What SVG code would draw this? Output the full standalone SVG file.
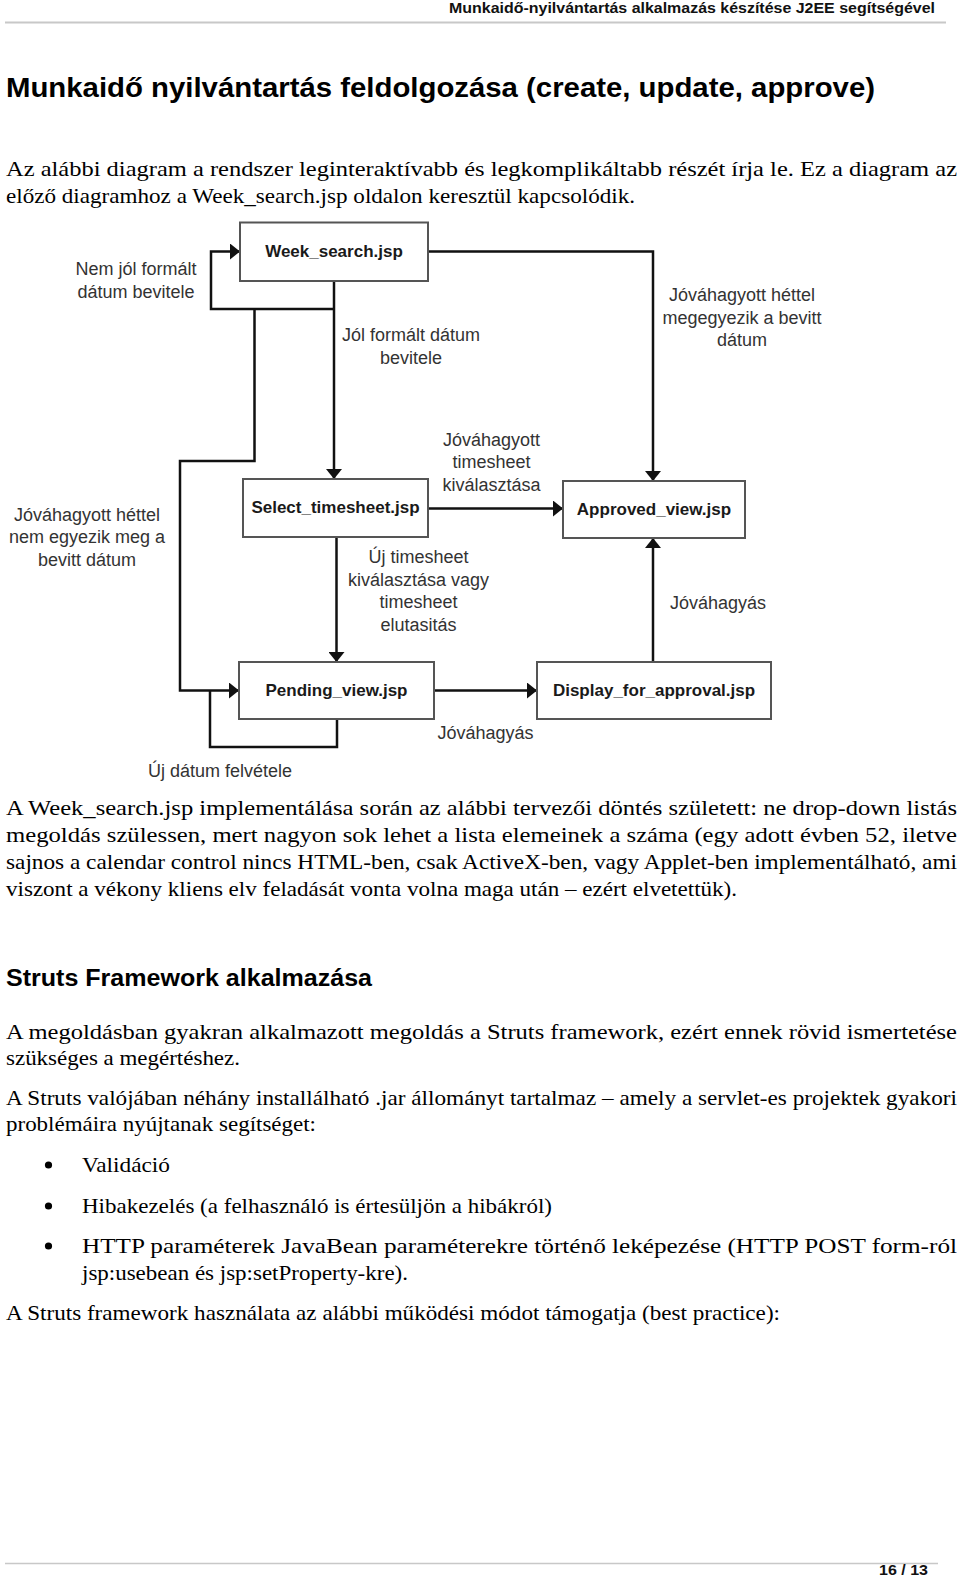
<svg xmlns="http://www.w3.org/2000/svg" width="960" height="1586" viewBox="0 0 960 1586">
<style>
.hdr{font-family:"Liberation Sans",Arial,sans-serif;font-weight:bold;fill:#111}
.body{font-family:"Liberation Serif","Times New Roman",serif;font-size:21px;fill:#000}
.h1{font-family:"Liberation Sans",Arial,sans-serif;font-weight:bold;fill:#000}
.node rect{fill:#fff;stroke:#555;stroke-width:2}
.node text{font-family:"Liberation Sans",Arial,sans-serif;font-weight:bold;font-size:17px;fill:#1a1a1a;text-anchor:middle}
.lbl{font-family:"Liberation Sans",Arial,sans-serif;font-size:18px;fill:#333;text-anchor:middle}
.conn path{fill:none;stroke:#111;stroke-width:2.5}
</style>
<defs>
<marker id="ah" viewBox="0 0 10 16" refX="10" refY="8" markerWidth="10" markerHeight="16" markerUnits="userSpaceOnUse" orient="auto">
<path d="M0,0 L10,8 L0,16 z" fill="#111"/>
</marker>
</defs>
<rect width="960" height="1586" fill="#fff"/>

<!-- page header -->
<text class="hdr" x="449" y="13" font-size="15" textLength="486" lengthAdjust="spacingAndGlyphs">Munkaidő-nyilvántartás alkalmazás készítése J2EE segítségével</text>
<line x1="5" y1="22.5" x2="946" y2="22.5" stroke="#c8c8c8" stroke-width="2"/>

<text class="h1" x="6" y="97" font-size="27" textLength="869" lengthAdjust="spacingAndGlyphs">Munkaidő nyilvántartás feldolgozása (create, update, approve)</text>

<text class="body" x="6" y="176" textLength="951" lengthAdjust="spacingAndGlyphs">Az alábbi diagram a rendszer leginteraktívabb és legkomplikáltabb részét írja le. Ez a diagram az</text>
<text class="body" x="6" y="203" textLength="629" lengthAdjust="spacingAndGlyphs">előző diagramhoz a Week_search.jsp oldalon keresztül kapcsolódik.</text>

<!-- diagram connectors -->
<g id="connectors" class="conn">
<path d="M428,251.5 H653 V481" marker-end="url(#ah)"/>
<path d="M334,281 V479" marker-end="url(#ah)"/>
<path d="M334,309 H211 V251.5 H240" marker-end="url(#ah)"/>
<path d="M254.5,309 V461 H180 V690.5 H239" marker-end="url(#ah)"/>
<path d="M428,508.5 H563" marker-end="url(#ah)"/>
<path d="M336.5,537 V662" marker-end="url(#ah)"/>
<path d="M337,719 V747 H210 V690.5"/>
<path d="M434,690.5 H537" marker-end="url(#ah)"/>
<path d="M653,662 V538" marker-end="url(#ah)"/>
</g>

<!-- nodes -->
<g id="week_search" class="node">
<rect x="240" y="222.5" width="188" height="58.5"/>
<text x="334" y="257">Week_search.jsp</text>
</g>
<g id="select_timesheet" class="node">
<rect x="243" y="479" width="185" height="58"/>
<text x="335.5" y="513">Select_timesheet.jsp</text>
</g>
<g id="approved_view" class="node">
<rect x="563" y="481" width="182" height="57"/>
<text x="654" y="514.5">Approved_view.jsp</text>
</g>
<g id="pending_view" class="node">
<rect x="239" y="662" width="195" height="57"/>
<text x="336.5" y="696">Pending_view.jsp</text>
</g>
<g id="display_for_approval" class="node">
<rect x="537" y="662" width="234" height="57"/>
<text x="654" y="696">Display_for_approval.jsp</text>
</g>

<!-- connector labels -->
<g id="labels">
<text class="lbl" x="136" y="275">Nem jól formált</text>
<text class="lbl" x="136" y="297.5">dátum bevitele</text>
<text class="lbl" x="411" y="341">Jól formált dátum</text>
<text class="lbl" x="411" y="363.5">bevitele</text>
<text class="lbl" x="742" y="301">Jóváhagyott héttel</text>
<text class="lbl" x="742" y="323.5">megegyezik a bevitt</text>
<text class="lbl" x="742" y="346">dátum</text>
<text class="lbl" x="491.5" y="445.5">Jóváhagyott</text>
<text class="lbl" x="491.5" y="468">timesheet</text>
<text class="lbl" x="491.5" y="490.5">kiválasztása</text>
<text class="lbl" x="87" y="520.5">Jóváhagyott héttel</text>
<text class="lbl" x="87" y="543">nem egyezik meg a</text>
<text class="lbl" x="87" y="565.5">bevitt dátum</text>
<text class="lbl" x="418.5" y="563">Új timesheet</text>
<text class="lbl" x="418.5" y="585.5">kiválasztása vagy</text>
<text class="lbl" x="418.5" y="608">timesheet</text>
<text class="lbl" x="418.5" y="630.5">elutasitás</text>
<text class="lbl" x="718" y="609">Jóváhagyás</text>
<text class="lbl" x="485.5" y="739">Jóváhagyás</text>
<text class="lbl" x="220" y="776.5">Új dátum felvétele</text>
</g>

<text class="body" x="6" y="815" textLength="951" lengthAdjust="spacingAndGlyphs">A Week_search.jsp implementálása során az alábbi tervezői döntés született: ne drop-down listás</text>
<text class="body" x="6" y="842" textLength="951" lengthAdjust="spacingAndGlyphs">megoldás szülessen, mert nagyon sok lehet a lista elemeinek a száma (egy adott évben 52, iletve</text>
<text class="body" x="6" y="869" textLength="951" lengthAdjust="spacingAndGlyphs">sajnos a calendar control nincs HTML-ben, csak ActiveX-ben, vagy Applet-ben implementálható, ami</text>
<text class="body" x="6" y="896" textLength="731" lengthAdjust="spacingAndGlyphs">viszont a vékony kliens elv feladását vonta volna maga után – ezért elvetettük).</text>

<text class="h1" x="6" y="986" font-size="23" textLength="366" lengthAdjust="spacingAndGlyphs">Struts Framework alkalmazása</text>

<text class="body" x="6" y="1039" textLength="951" lengthAdjust="spacingAndGlyphs">A megoldásban gyakran alkalmazott megoldás a Struts framework, ezért ennek rövid ismertetése</text>
<text class="body" x="6" y="1065" textLength="234" lengthAdjust="spacingAndGlyphs">szükséges a megértéshez.</text>
<text class="body" x="6" y="1105" textLength="951" lengthAdjust="spacingAndGlyphs">A Struts valójában néhány installálható .jar állományt tartalmaz – amely a servlet-es projektek gyakori</text>
<text class="body" x="6" y="1131" textLength="310" lengthAdjust="spacingAndGlyphs">problémáira nyújtanak segítséget:</text>

<circle cx="48.5" cy="1165" r="3.6" fill="#000"/>
<text class="body" x="82" y="1172" textLength="88" lengthAdjust="spacingAndGlyphs">Validáció</text>
<circle cx="48.5" cy="1206" r="3.6" fill="#000"/>
<text class="body" x="82" y="1213" textLength="470" lengthAdjust="spacingAndGlyphs">Hibakezelés (a felhasználó is értesüljön a hibákról)</text>
<circle cx="48.5" cy="1246" r="3.6" fill="#000"/>
<text class="body" x="82" y="1253" textLength="875" lengthAdjust="spacingAndGlyphs">HTTP paraméterek JavaBean paraméterekre történő leképezése (HTTP POST form-ról</text>
<text class="body" x="82" y="1280" textLength="326" lengthAdjust="spacingAndGlyphs">jsp:usebean és jsp:setProperty-kre).</text>

<text class="body" x="6" y="1320" textLength="774" lengthAdjust="spacingAndGlyphs">A Struts framework használata az alábbi működési módot támogatja (best practice):</text>

<!-- page footer -->
<line x1="5" y1="1563.5" x2="938" y2="1563.5" stroke="#c8c8c8" stroke-width="1.5"/>
<text class="hdr" x="879" y="1575" font-size="15" textLength="49" lengthAdjust="spacingAndGlyphs">16 / 13</text>
</svg>
